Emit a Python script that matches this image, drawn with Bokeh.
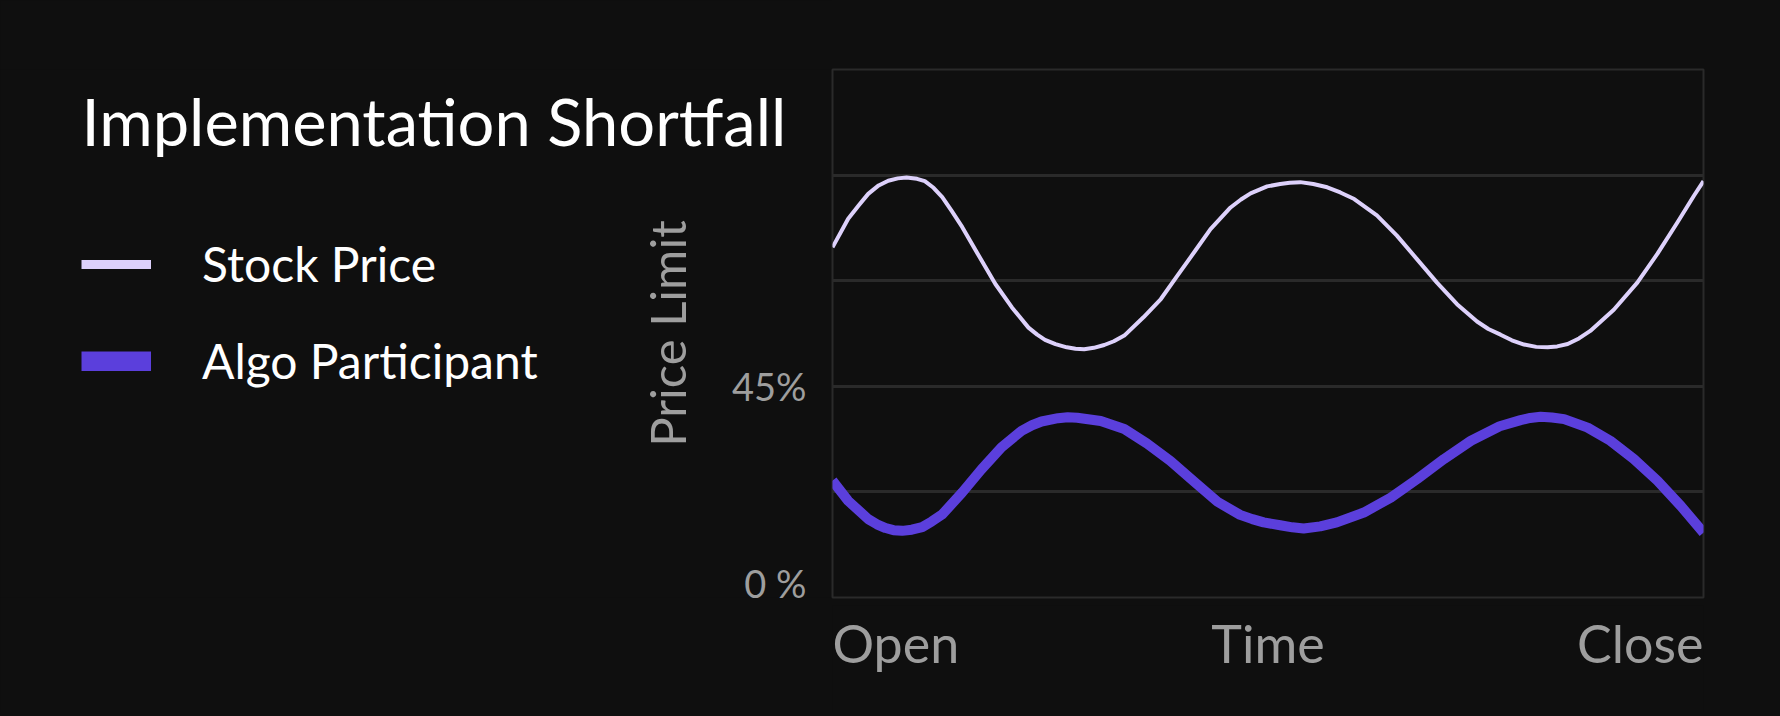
from bokeh.plotting import figure
from bokeh.models import Range1d, FixedTicker, Label, Legend, LegendItem
from bokeh.layouts import row, column
from bokeh.embed import file_html
from bokeh.resources import INLINE

# ---------------- data ----------------
TITLE = "Implementation Shortfall"
SERIES = ["Stock Price", "Algo Participant"]
Y_AXIS_TITLE = "Price Limit"
X_LABELS = ["Open", "Time", "Close"]
X_START, X_END = 0, 100
Y_MIN, Y_MAX = 0, 112.5
Y_TICKS = [0, 45]
Y_TICK_LABELS = ["0 %", "45%"]
Y_GRID = [22.5, 45, 67.5, 90]

stock_x = [0, 1.8, 3.0, 4.1, 5.3, 6.4, 7.5, 8.5, 9.7, 10.6, 11.6, 12.6, 13.7, 14.9, 16.8, 18.7,
           20.6, 22.5, 23.5, 24.4, 25.6, 26.9, 27.9, 28.9, 30.0, 31.2, 32.3, 33.5, 35.7, 37.7,
           39.6, 41.5, 43.4, 45.7, 46.9, 48.0, 49.9, 51.4, 52.5, 53.7, 55.2, 56.8, 58.3, 59.9,
           62.5, 64.8, 67.1, 69.4, 71.7, 74.0, 75.3, 76.7, 78.0, 79.4, 80.8, 82.1, 83.2, 84.4,
           85.7, 87.0, 89.7, 92.4, 94.7, 97.0, 98.9, 100]
stock_y = [74.6, 80.7, 83.5, 86.0, 87.8, 88.8, 89.3, 89.5, 89.2, 88.7, 87.3, 85.3, 82.3, 78.9, 72.8, 66.8,
           61.8, 57.5, 56.0, 54.9, 54.0, 53.3, 53.0, 52.9, 53.2, 53.8, 54.6, 55.8, 59.7, 63.6,
           68.6, 73.5, 78.5, 83.1, 84.8, 86.1, 87.6, 88.1, 88.35, 88.5, 88.1, 87.4, 86.3, 84.9,
           81.4, 77.1, 72.1, 67.1, 62.5, 58.8, 57.2, 56.0, 54.8, 53.9, 53.4, 53.3, 53.5, 54.0,
           55.2, 56.8, 61.3, 67.1, 73.2, 79.9, 85.6, 88.7]

algo_x = [0, 1.8, 4.1, 5.1, 6.1, 7.0, 8.0, 9.1, 10.3, 11.4, 12.6, 14.9, 17.1, 19.4, 21.7, 22.9,
          24.0, 25.9, 27.0, 28.1, 30.8, 33.5, 36.1, 38.8, 41.5, 44.2, 46.8, 48.2, 49.5, 51.4, 52.8,
          54.1, 56.0, 57.9, 61.0, 64.1, 67.1, 70.2, 73.3, 76.6, 79.0, 80.1, 81.3, 82.6, 84.0,
          86.7, 89.3, 92.0, 94.7, 97.4, 100]
algo_y = [24.9, 20.6, 16.7, 15.6, 14.8, 14.35, 14.2, 14.45, 15.0, 16.2, 17.7, 22.4, 27.3, 32.0, 35.5, 36.7,
          37.5, 38.2, 38.4, 38.3, 37.6, 35.9, 32.8, 29.1, 24.7, 20.4, 17.6, 16.7, 16.0, 15.4, 14.95,
          14.7, 15.15, 16.0, 18.1, 21.3, 25.2, 29.5, 33.4, 36.5, 37.8, 38.25, 38.5, 38.35, 38.0,
          36.2, 33.4, 29.5, 24.9, 19.5, 13.8]

# ---------------- style ----------------
BG = "#0f0f0f"
STOCK_C = "#ddd1fb"
ALGO_C = "#5b3fdc"
GRID_C = "#2a2a2a"
MUTED = "#9e9e9e"
FONT = "Lato"
NAN = float("nan")
OVERLAP = 264  # the chart's axis area lies over the empty right part of the title panel

# ---------------- left panel: title + legend ----------------
left = figure(width=832, height=712, x_axis_location=None, y_axis_location=None,
              toolbar_location=None, output_backend="svg", title=None,
              min_border_left=0, min_border_right=0, min_border_top=69, min_border_bottom=115,
              margin=(0, -OVERLAP, 0, 0))
left.background_fill_color = BG
left.border_fill_color = BG
left.outline_line_color = None
left.grid.visible = False

left.add_layout(Label(x=81, y=477, x_units="screen", y_units="screen", text=TITLE,
                      text_font=FONT, text_font_size="65px", text_color="#ffffff",
                      text_align="left", text_baseline="alphabetic"))

d1 = left.line(x=[NAN, NAN], y=[NAN, NAN], line_color=STOCK_C, line_width=9)
d2 = left.line(x=[NAN, NAN], y=[NAN, NAN], line_color=ALGO_C, line_width=20)
legend = Legend(items=[LegendItem(label=SERIES[0], renderers=[d1]),
                       LegendItem(label=SERIES[1], renderers=[d2])],
                location=(81, 208), orientation="vertical",
                glyph_width=70, glyph_height=20, label_standoff=51, spacing=40,
                padding=0, margin=0, border_line_color=None, background_fill_alpha=0,
                label_text_font=FONT, label_text_font_size="48px", label_text_color="#ffffff")
left.add_layout(legend)

# ---------------- chart ----------------
p = figure(width=1202, height=605, x_range=Range1d(X_START, X_END), y_range=Range1d(Y_MIN, Y_MAX),
           x_axis_location=None, toolbar_location=None, output_backend="svg", title=None,
           min_border_left=264, min_border_right=67, min_border_top=69, min_border_bottom=8)
p.background_fill_color = BG
p.border_fill_color = None
p.outline_line_color = GRID_C
p.outline_line_width = 2

p.line(stock_x, stock_y, line_color=STOCK_C, line_width=4, line_join="round")
p.line(algo_x, algo_y, line_color=ALGO_C, line_width=10, line_join="round")

p.xgrid.visible = False
p.ygrid.ticker = FixedTicker(ticks=Y_GRID)
p.ygrid.grid_line_color = GRID_C
p.ygrid.grid_line_width = 3

ya = p.yaxis[0]
ya.ticker = FixedTicker(ticks=Y_TICKS)
ya.major_label_overrides = dict(zip(Y_TICKS, Y_TICK_LABELS))
ya.axis_line_color = None
ya.major_tick_line_color = None
ya.minor_tick_line_color = None
ya.major_tick_out = 0
ya.major_tick_in = 0
ya.major_label_standoff = 26
ya.major_label_text_font = FONT
ya.major_label_text_font_size = "38px"
ya.major_label_text_color = MUTED
ya.axis_label = Y_AXIS_TITLE
ya.axis_label_text_font = FONT
ya.axis_label_text_font_size = "49px"
ya.axis_label_text_font_style = "normal"
ya.axis_label_text_color = MUTED
ya.axis_label_standoff = 33

# ---------------- x labels strip ----------------
strip = figure(width=1202, height=107, x_range=p.x_range, y_range=Range1d(0, 107),
               x_axis_location=None, y_axis_location=None, toolbar_location=None,
               output_backend="svg", title=None,
               min_border_left=264, min_border_right=67, min_border_top=0, min_border_bottom=0)
strip.background_fill_color = BG
strip.border_fill_color = None
strip.outline_line_color = None
strip.grid.visible = False
x_pos = [X_START, (X_START + X_END) / 2, X_END]
for xv, txt, align in zip(x_pos, X_LABELS, ["left", "center", "right"]):
    strip.text(x=[xv], y=[70], text=[txt], text_align=align, text_baseline="alphabetic",
               text_font={"value": FONT}, text_font_size="52px", text_color=MUTED)

layout = row(left, column(p, strip))
html = file_html(layout, INLINE, title=TITLE)
html = html.replace("</head>", "<style>html, body {background-color: #0f0f0f; margin: 0;}</style></head>", 1)
open("out.html", "w").write(html)
